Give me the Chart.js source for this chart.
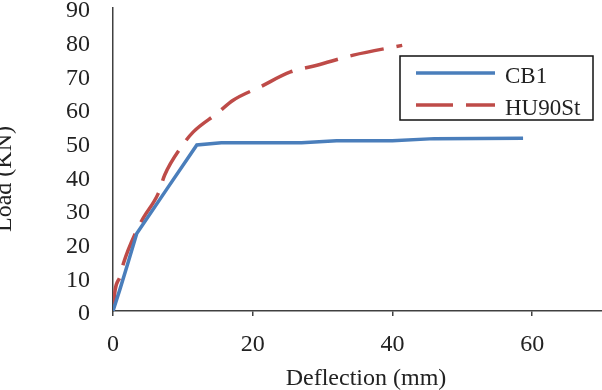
<!DOCTYPE html>
<html>
<head>
<meta charset="utf-8">
<script src="https://cdn.jsdelivr.net/npm/chart.js@4.4.1/dist/chart.umd.min.js"></script>
<style>
  html, body { margin: 0; padding: 0; background: #fff; overflow: hidden; }
</style>
</head>
<body>
<canvas id="chart" width="602" height="390"></canvas>
<script>
// load–deflection readings taken off the figure
const cb1Defl = [0, 1.0, 2.0, 3.4, 7.7, 12.0, 15.5, 27.0, 32.0, 40.0, 46.0, 58.7];
const cb1Load = [0, 6.5, 13.3, 23.0, 36.2, 49.3, 50.0, 50.0, 50.6, 50.6, 51.2, 51.3];

const huDefl = [0, 0.3, 1.0, 1.5, 3.4, 4.3, 6.5, 7.4, 9.8, 11.5, 14.9, 17.2, 21.1, 25.4, 29.2, 34.4, 41.4];
const huLoad = [0, 6.2, 10.2, 14.2, 24.0, 27.5, 35.0, 40.4, 48.8, 53.2, 58.7, 62.6, 66.6, 71.0, 73.0, 76.0, 78.9];

const xTicks = [0, 20, 40, 60];
const yTicks = [0, 10, 20, 30, 40, 50, 60, 70, 80, 90];

const seriesNames = ["CB1", "HU90St"];
const seriesColors = ["#4a7ebb", "#be4b48"];

const FONT = "'Liberation Serif', 'Times New Roman', serif";
const TEXT = "#222";
const AXIS = "#404040";

function pairs(xs, ys) {
    return xs.map((x, i) => ({ x: x, y: ys[i] }));
}

// axis titles + boxed legend, placed like the original figure
const extras = {
    id: "extras",
    afterDraw(chart) {
        const ctx = chart.ctx;
        ctx.save();
        ctx.fillStyle = TEXT;
        ctx.font = "24px " + FONT;

        // x title
        ctx.textAlign = "center";
        ctx.textBaseline = "alphabetic";
        ctx.fillText("Deflection (mm)", 366, 385);

        // y title (partly cut by the left edge, as in the source)
        ctx.save();
        ctx.translate(11, 179);
        ctx.rotate(-Math.PI / 2);
        ctx.fillText("Load (KN)", 0, 0);
        ctx.restore();

        // legend
        ctx.strokeStyle = "#111";
        ctx.lineWidth = 1.5;
        ctx.strokeRect(400, 56, 193, 64);

        chart.data.datasets.forEach((ds, i) => {
            const y = 73 + i * 32;
            ctx.beginPath();
            ctx.strokeStyle = ds.borderColor;
            ctx.lineWidth = 3.5;
            ctx.setLineDash(ds.borderDash && ds.borderDash.length ? [37, 13] : []);
            ctx.moveTo(416, y);
            ctx.lineTo(495, y);
            ctx.stroke();
            ctx.setLineDash([]);

            ctx.textAlign = "left";
            ctx.fillStyle = TEXT;
            ctx.font = "23px " + FONT;
            ctx.fillText(ds.label, 505, y + 10);
        });
        ctx.restore();
    }
};

new Chart(document.getElementById("chart"), {
    type: "scatter",
    data: {
        datasets: [
            {
                label: seriesNames[0],
                data: pairs(cb1Defl, cb1Load),
                showLine: true,
                borderColor: seriesColors[0],
                borderWidth: 3.5,
                pointRadius: 0,
                tension: 0
            },
            {
                label: seriesNames[1],
                data: pairs(huDefl, huLoad),
                showLine: true,
                borderColor: seriesColors[1],
                borderWidth: 3.5,
                borderDash: [34, 13],
                pointRadius: 0,
                cubicInterpolationMode: "monotone"
            }
        ]
    },
    options: {
        responsive: false,
        devicePixelRatio: 1,
        animation: false,
        layout: { padding: 0 },
        plugins: {
            legend: { display: false },
            tooltip: { enabled: false }
        },
        scales: {
            x: {
                type: "linear",
                min: 0,
                max: 70,
                afterBuildTicks: s => { s.ticks = xTicks.map(v => ({ value: v })); },
                afterFit: s => { s.height = 79; },
                grid: {
                    drawOnChartArea: false,
                    drawTicks: true,
                    tickLength: 5,
                    color: AXIS,
                    lineWidth: 1.5
                },
                border: { color: AXIS, width: 1.5 },
                ticks: {
                    color: TEXT,
                    padding: 14,
                    maxRotation: 0,
                    font: { family: FONT, size: 24 }
                }
            },
            y: {
                min: 0,
                max: 90,
                afterBuildTicks: s => { s.ticks = yTicks.map(v => ({ value: v })); },
                afterFit: s => {
                    s.width = 113;
                    s.paddingTop = 8;
                    s.paddingBottom = 0;
                },
                grid: {
                    drawOnChartArea: false,
                    drawTicks: false
                },
                border: { color: AXIS, width: 1.5 },
                ticks: {
                    color: TEXT,
                    padding: 23,
                    labelOffset: 3,
                    font: { family: FONT, size: 24 }
                }
            }
        }
    },
    plugins: [extras]
});
</script>
</body>
</html>
